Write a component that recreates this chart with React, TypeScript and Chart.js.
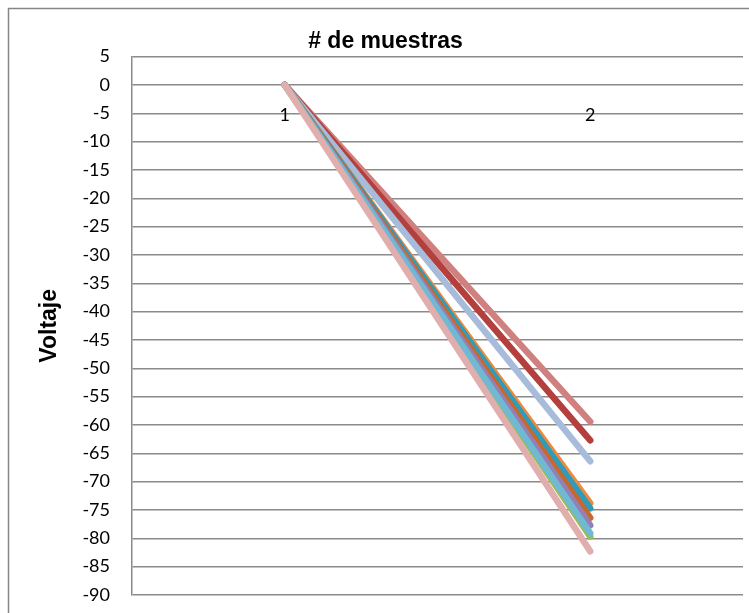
import { useEffect, useRef } from 'react';
import { Chart, registerables } from 'chart.js';

Chart.register(...registerables);

const categories = ['1', '2'];
const yMin = -90;
const yMax = 5;
const yStep = 5;

const seriesPink = [0, -82.3];
const seriesAqua = [0, -79.1];
const seriesGreen = [0, -79.7];
const seriesPurple = [0, -77.7];
const seriesDarkOrange = [0, -76.4];
const seriesTeal = [0, -74.7];
const seriesOrange = [0, -73.8];
const seriesLightBlue = [0, -66.4];
const seriesDarkRed = [0, -62.7];
const seriesRose = [0, -59.4];

const seriesList = [
  { name: 'Serie 10', data: seriesPink, color: '#E0AFAD' },
  { name: 'Serie 9', data: seriesAqua, color: '#6FB9D3' },
  { name: 'Serie 8', data: seriesGreen, color: '#9BBB59' },
  { name: 'Serie 7', data: seriesPurple, color: '#9580B5' },
  { name: 'Serie 6', data: seriesDarkOrange, color: '#C8692B' },
  { name: 'Serie 5', data: seriesTeal, color: '#2E9CBA' },
  { name: 'Serie 4', data: seriesOrange, color: '#EE8A3C' },
  { name: 'Serie 3', data: seriesLightBlue, color: '#A7BBDA' },
  { name: 'Serie 2', data: seriesDarkRed, color: '#B3403D' },
  { name: 'Serie 1', data: seriesRose, color: '#D0807E' },
];

const outerBorder = {
  id: 'outerBorder',
  beforeDraw(chart: any) {
    const ctx = chart.ctx;
    ctx.save();
    ctx.fillStyle = '#ffffff';
    ctx.fillRect(0, 0, chart.width, chart.height);
    ctx.strokeStyle = '#868686';
    ctx.lineWidth = 1.5;
    ctx.strokeRect(8.5, 8.5, chart.width + 40, chart.height + 40);
    ctx.restore();
  },
};

export default function App() {
  const ref = useRef<HTMLCanvasElement | null>(null);

  useEffect(() => {
    if (!ref.current) return;
    const tickFont = { family: 'Lato', size: 18 };
    const chart = new Chart(ref.current, {
      type: 'line',
      data: {
        labels: categories,
        datasets: seriesList.map((s) => ({
          label: s.name,
          data: s.data,
          borderColor: s.color,
          backgroundColor: s.color,
          borderWidth: 6.5,
          borderCapStyle: 'round',
          borderJoinStyle: 'round',
          pointRadius: 0,
          pointHoverRadius: 0,
          fill: false,
          tension: 0,
        })),
      },
      options: {
        responsive: false,
        animation: false,
        layout: { padding: { left: 28, top: 8, right: 6, bottom: 18 } },
        plugins: {
          legend: { display: false },
          tooltip: { enabled: false },
          title: {
            display: true,
            text: '# de muestras',
            color: '#000',
            font: { family: 'Liberation Sans', size: 23, weight: 'bold' },
            padding: { top: 20, bottom: 1 },
          },
        },
        scales: {
          x: {
            type: 'category',
            offset: true,
            position: { y: 0 } as any,
            grid: { display: false, drawTicks: false },
            border: { display: false },
            ticks: { padding: 19, color: '#000', font: tickFont, maxRotation: 0 },
          },
          y: {
            min: yMin,
            max: yMax,
            ticks: { stepSize: yStep, padding: 0, color: '#000', font: tickFont },
            grid: {
              color: '#8a8a8a',
              lineWidth: 1.5,
              drawTicks: true,
              tickLength: 22,
              tickColor: 'rgba(0,0,0,0)',
            },
            border: { display: true, color: '#8a8a8a', width: 1.5 },
            title: {
              display: true,
              text: 'Voltaje',
              color: '#000',
              font: { family: 'Liberation Sans', size: 23, weight: 'bold' },
              padding: { top: 8, bottom: 0 },
            },
            afterFit: (scale: any) => {
              scale.width = 104;
            },
          },
        },
      },
      plugins: [outerBorder],
    } as any);
    return () => chart.destroy();
  }, []);

  return (
    <div style={{ position: 'absolute', left: 0, top: 0, width: 749, height: 613, overflow: 'hidden', background: '#fff' }}>
      <canvas ref={ref} width={749} height={613} style={{ display: 'block' }} />
    </div>
  );
}
